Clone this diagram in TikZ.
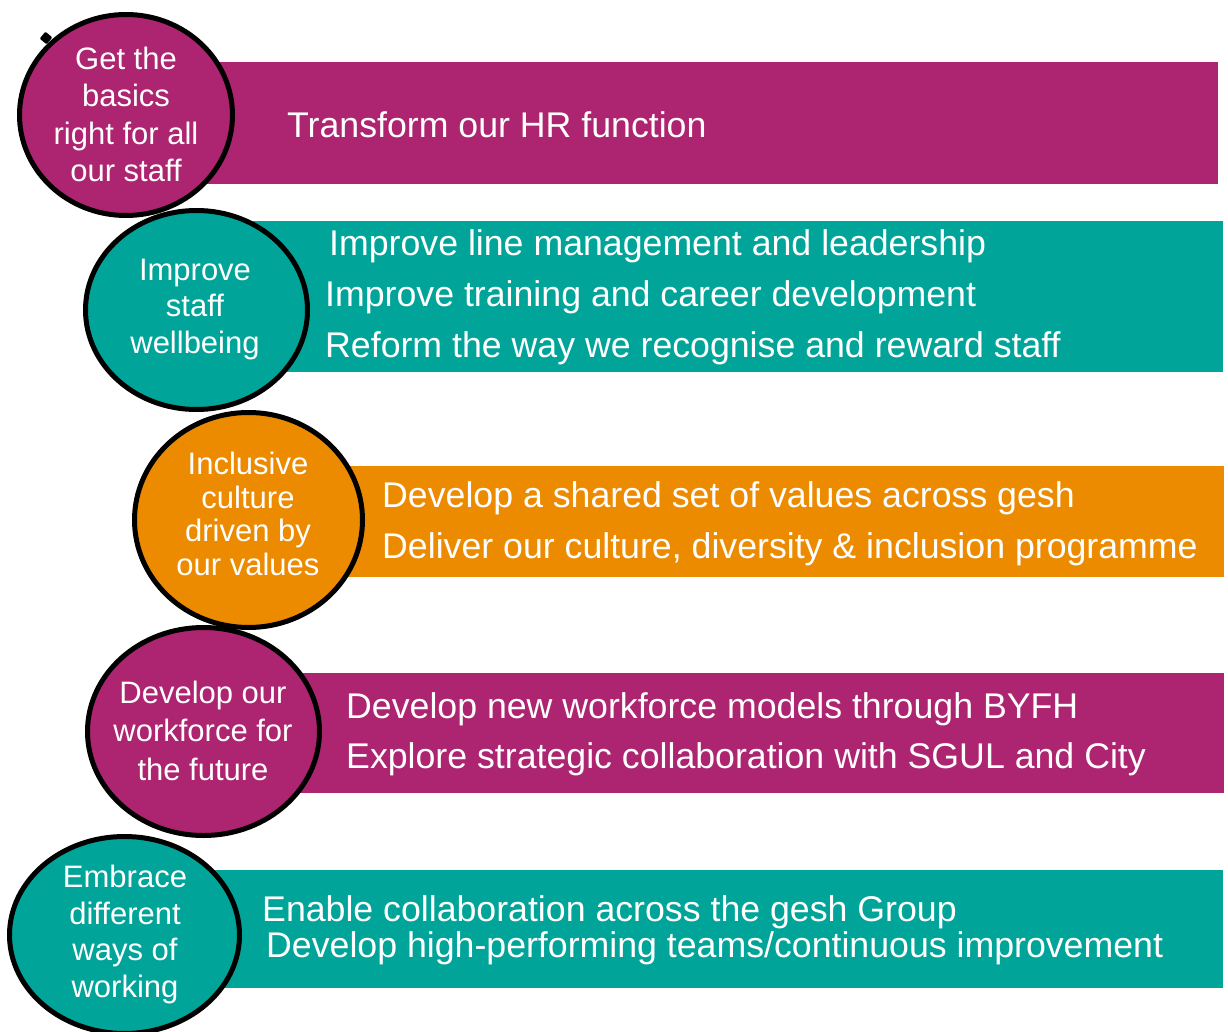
\documentclass[tikz,border=0pt]{standalone}
\usepackage{fontspec}
\setmainfont{Liberation Sans}
\usetikzlibrary{shapes.geometric}
\definecolor{plum}{HTML}{AD2470}
\definecolor{teal}{HTML}{00A499}
\definecolor{amber}{HTML}{EC8A00}
\tikzset{
  bar/.style={rectangle, fill=#1, draw=none, inner sep=0pt, anchor=north west},
  pillar/.style={ellipse, fill=#1, draw=black, line width=5pt, inner sep=0pt},
  pillartext/.style={text=white, align=center, anchor=base, inner sep=0pt,
    font=\fontsize{31}{37.5}\selectfont},
  goal/.style={text=white, anchor=base west, inner sep=0pt,
    font=\fontsize{35.7}{42}\selectfont},
}
\begin{document}
\begin{tikzpicture}[x=1pt, y=-1pt]
\useasboundingbox (0,0) rectangle (1228,1032);
\fill[white] (0,0) rectangle (1228,1032);

% coloured bars behind the circles
\node[bar=plum,  minimum width=1092pt, minimum height=122pt] (b1) at (126,62) {};
\node[bar=teal,  minimum width=1027pt, minimum height=151pt] (b2) at (196,221) {};
\node[bar=amber, minimum width=976pt,  minimum height=111pt] (b3) at (248,466) {};
\node[bar=plum,  minimum width=1021pt, minimum height=120pt] (b4) at (203,673) {};
\node[bar=teal,  minimum width=1099pt, minimum height=118pt] (b5) at (124,870) {};

% circles
\node[pillar=plum,  minimum width=213pt, minimum height=201pt] (c1) at (126,115) {};
\node[pillar=teal,  minimum width=222pt, minimum height=199pt] (c2) at (196.5,310) {};
\node[pillar=amber, minimum width=228pt, minimum height=215pt] (c3) at (248.5,520) {};
\node[pillar=plum,  minimum width=232pt, minimum height=208pt] (c4) at (203.5,731.5) {};
\node[pillar=teal,  minimum width=230pt, minimum height=197pt] (c5) at (124.5,935) {};

% small handle on the first circle
\fill[black, rounded corners=1pt, rotate around={-40:(46,38)}] (41.5,33.5) rectangle (50.5,42.5);

% circle labels (anchored at the baseline of their last line)
\node[pillartext] (t1) at (126,182) {Get the\\basics\\right for all\\our staff};
\node[pillartext, font=\fontsize{31}{36.5}\selectfont] (t2) at (195,353) {Improve\\staff\\wellbeing};
\node[pillartext, font=\fontsize{31}{33.5}\selectfont] (t3) at (248,575) {Inclusive\\culture\\driven by\\our values};
\node[pillartext, font=\fontsize{31}{38.5}\selectfont] (t4) at (203,780) {Develop our\\workforce for\\the future};
\node[pillartext, font=\fontsize{31}{36.5}\selectfont] (t5) at (125,997) {Embrace\\different\\ways of\\working};

% bar texts
\node[goal] (g1) at (287,138) {Transform our HR function};
\node[goal] (g2a) at (329,256) {Improve line management and leadership};
\node[goal] (g2b) at (325,306) {Improve training and career development};
\node[goal] (g2c) at (325,357) {Reform the way we recognise and reward staff};
\node[goal] (g3a) at (382,507) {Develop a shared set of values across gesh};
\node[goal] (g3b) at (382,558) {Deliver our culture, diversity \& inclusion programme};
\node[goal] (g4a) at (346,718) {Develop new workforce models through BYFH};
\node[goal] (g4b) at (346,768) {Explore strategic collaboration with SGUL and City};
\node[goal] (g5a) at (262,921) {Enable collaboration across the gesh Group};
\node[goal] (g5b) at (266,957) {Develop high-performing teams/continuous improvement};
\end{tikzpicture}
\end{document}
